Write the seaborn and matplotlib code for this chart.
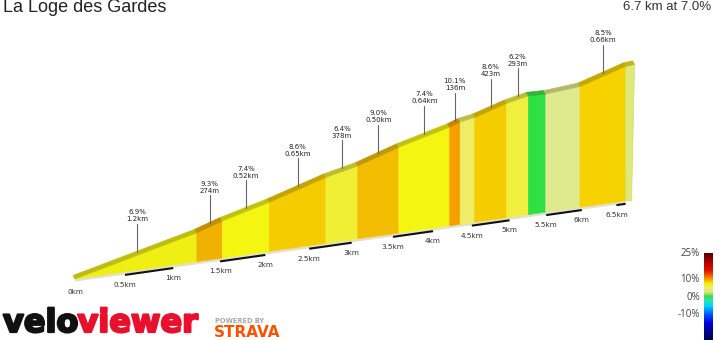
import numpy as np
import pandas as pd
import matplotlib
matplotlib.use("Agg")
import matplotlib.pyplot as plt
import matplotlib.patheffects as pe
from matplotlib.colors import LinearSegmentedColormap, to_rgb
import seaborn as sns

# ---------------- data ----------------
title = "La Loge des Gardes"
summary = "6.7 km at 7.0%"
seg_length_km = [1.25, 0.274, 0.52, 0.65, 0.378, 0.50, 0.64, 0.136, 0.19, 0.423, 0.293, 0.24, 0.48, 0.66]
seg_gradient = [6.9, 9.3, 7.4, 8.6, 6.4, 9.0, 7.4, 10.1, 5.0, 8.6, 6.2, 0.3, 3.0, 8.5]
seg_length_label = ["1.2km", "274m", "0.52km", "0.65km", "378m", "0.50km", "0.64km",
                    "136m", "", "423m", "293m", "", "", "0.66km"]
km_ticks = [0, 0.5, 1, 1.5, 2, 2.5, 3, 3.5, 4, 4.5, 5, 5.5, 6, 6.5]
km_tick_labels = ["0km", "0.5km", "1km", "1.5km", "2km", "2.5km", "3km", "3.5km",
                  "4km", "4.5km", "5km", "5.5km", "6km", "6.5km"]
cbar_ticks = [25, 10, 0, -10]
cbar_tick_labels = ["25%", "10%", "0%", "-10%"]

# ---------------- style / camera ----------------
cmap_nodes = [(-25, "#00004a"), (-15, "#0000d8"), (-10, "#0058ff"), (-5, "#00d8ff"),
              (-1.5, "#30e6a0"), (0.3, "#2fe043"), (1.8, "#b0dc6a"), (3.0, "#dfe98e"),
              (5.0, "#eeee66"), (6.3, "#f0ee3a"), (6.9, "#eeee14"), (7.4, "#f6f612"),
              (8.5, "#f6d300"), (9.0, "#f3c300"), (9.3, "#f1b100"), (10.1, "#f5a000"),
              (15, "#e41200"), (20, "#b00000"), (25, "#560000")]
vmin, vmax = -25, 25
cmap = LinearSegmentedColormap.from_list(
    "vv", [((v - vmin) / (vmax - vmin), c) for v, c in cmap_nodes])

X0, Y0 = 75.0, 279.0
SX, PERSP, BASE_SLOPE, HZ = 101.6, 0.0338, 0.142, 0.349
BAND = np.array([-2.0, -3.6])


def proj(d, e):
    d = np.asarray(d, float)
    e = np.asarray(e, float)
    f = 1 + PERSP * d
    x = X0 + SX * d / f
    yb = Y0 - BASE_SLOPE * (x - X0)
    return x, yb - HZ * e / f


sns.set_theme(style="white")
plt.rcParams["font.family"] = ["DejaVu Sans"]

fig = plt.figure(figsize=(7.2, 3.4), dpi=100)
ax = fig.add_axes([0, 0, 1, 1])
ax.set_xlim(0, 720)
ax.set_ylim(340, 0)
ax.axis("off")

lengths = np.array(seg_length_km)
grads = np.array(seg_gradient)
dist = np.concatenate([[0], np.cumsum(lengths)])
elev = np.concatenate([[0], np.cumsum(lengths * grads * 10.0)])
total = dist[-1]

# ground strip under the profile
dd = np.linspace(0, total, 50)
gx, gy = proj(dd, np.zeros_like(dd))
ax.fill(np.concatenate([gx, gx[::-1]]), np.concatenate([gy, gy[::-1] + 2.6]),
        color="#e4e0cc", lw=0, zorder=1)

# front faces and top bands
for i in range(len(lengths)):
    col = cmap((grads[i] - vmin) / (vmax - vmin))
    xs, ys = proj([dist[i], dist[i + 1]], [elev[i], elev[i + 1]])
    xb, yb = proj([dist[i], dist[i + 1]], [0, 0])
    ax.fill([xb[0], xb[1], xs[1], xs[0]], [yb[0], yb[1], ys[1], ys[0]],
            facecolor=col, edgecolor=col, lw=0.4, zorder=2)
    dark = np.array(to_rgb(col)) * 0.8
    ax.fill([xs[0], xs[1], xs[1] + BAND[0], xs[0] + BAND[0]],
            [ys[0], ys[1], ys[1] + BAND[1], ys[0] + BAND[1]],
            facecolor=dark, edgecolor=dark, lw=0.4, zorder=3)

# end cap
ex, ey = proj([total, total], [0, elev[-1]])
cap_top = np.array([ex[1] + 9, ey[1] - 2])
cap_bot = np.array([ex[0] + 6, ey[0]])
ax.fill([ex[0], ex[1], cap_top[0], cap_bot[0]], [ey[0], ey[1], cap_top[1], cap_bot[1]],
        facecolor="#dfe977", edgecolor="#d2dc6a", lw=0.5, zorder=2)
ax.fill([ex[1], ex[1] + BAND[0], cap_top[0] + BAND[0], cap_top[0]],
        [ey[1], ey[1] + BAND[1], cap_top[1] + BAND[1], cap_top[1]],
        facecolor="#c4b418", edgecolor="#c4b418", lw=0.4, zorder=3)

# outline of the road
ox, oy = proj(dist, elev)
sns.lineplot(x=ox + BAND[0] * 0.5, y=oy + BAND[1] * 0.5, ax=ax, sort=False,
             estimator=None, color="#b8b010", lw=0.4, alpha=0.5, zorder=4)

# segment labels with leader lines
LEAD = 28
for i in range(len(lengths)):
    if not seg_length_label[i]:
        continue
    dm = 0.5 * (dist[i] + dist[i + 1])
    em = 0.5 * (elev[i] + elev[i + 1])
    lx, ly = proj(dm, em)
    ytop = ly + BAND[1]
    ax.plot([lx, lx], [ytop, ytop - LEAD], color="#666666", lw=0.8, zorder=5)
    ax.text(lx, ytop - LEAD - 11.5, f"{grads[i]:.1f}%", ha="center", va="center",
            fontsize=5, color="#222222", zorder=6)
    ax.text(lx, ytop - LEAD - 4.5, seg_length_label[i], ha="center", va="center",
            fontsize=5, color="#222222", zorder=6)

# km scale
for k, lab in zip(km_ticks, km_tick_labels):
    if (k * 2) % 2 == 1:
        d2 = min(k + 0.5, total)
        sx_, sy_ = proj([k, d2], [0, 0])
        ax.plot(sx_, sy_ + 3, color="#111111", lw=1.5, solid_capstyle="butt", zorder=5)
    tx, ty = proj(k, 0)
    ax.text(tx, ty + 13, lab, ha="center", va="center", fontsize=5.2,
            color="#333333", zorder=6)

# colour bar
grad_img = np.linspace(vmax, vmin, 200)[:, None]
cb_top, cb_per = 297.3 - 1.733 * vmax, 1.733
ax.imshow(grad_img, cmap=cmap, vmin=vmin, vmax=vmax, aspect="auto",
          extent=[704, 713, 297.3 - cb_per * vmin, cb_top], zorder=5,
          interpolation="bilinear")
for v, lab in zip(cbar_ticks, cbar_tick_labels):
    ax.text(700, 297.3 - cb_per * v, lab, ha="right", va="center", fontsize=7,
            family=["Open Sans", "DejaVu Sans"], color="#444444")
ax.set_xlim(0, 720)
ax.set_ylim(340, 0)

# titles
ax.text(3, 12.5, title, ha="left", va="baseline", fontsize=13,
        family=["Liberation Sans", "DejaVu Sans"], color="#222222")
ax.text(711, 10, summary, ha="right", va="baseline", fontsize=9.5,
        family=["Liberation Sans", "DejaVu Sans"], color="#333333")

# logo
t1 = ax.text(3, 332, "velo", ha="left", va="baseline", fontsize=23, fontweight="bold",
             color="#111111",
             path_effects=[pe.withStroke(linewidth=1.6, foreground="#111111")])
fig.canvas.draw()
bb = t1.get_window_extent(fig.canvas.get_renderer())
x_after = ax.transData.inverted().transform((bb.x1, bb.y0))[0]
ax.text(x_after - 1, 332, "viewer", ha="left", va="baseline", fontsize=23,
        fontweight="bold", color="#e8112d",
        path_effects=[pe.withStroke(linewidth=1.6, foreground="#e8112d")])
ax.text(215, 321, "POWERED BY", ha="left", va="center", fontsize=4.8, fontweight="bold",
        color="#a8a8a8")
ax.text(214, 337, "STRAVA", ha="left", va="baseline", fontsize=11, fontweight="bold",
        color="#fc5200")

fig.savefig("out.png", dpi=100)
